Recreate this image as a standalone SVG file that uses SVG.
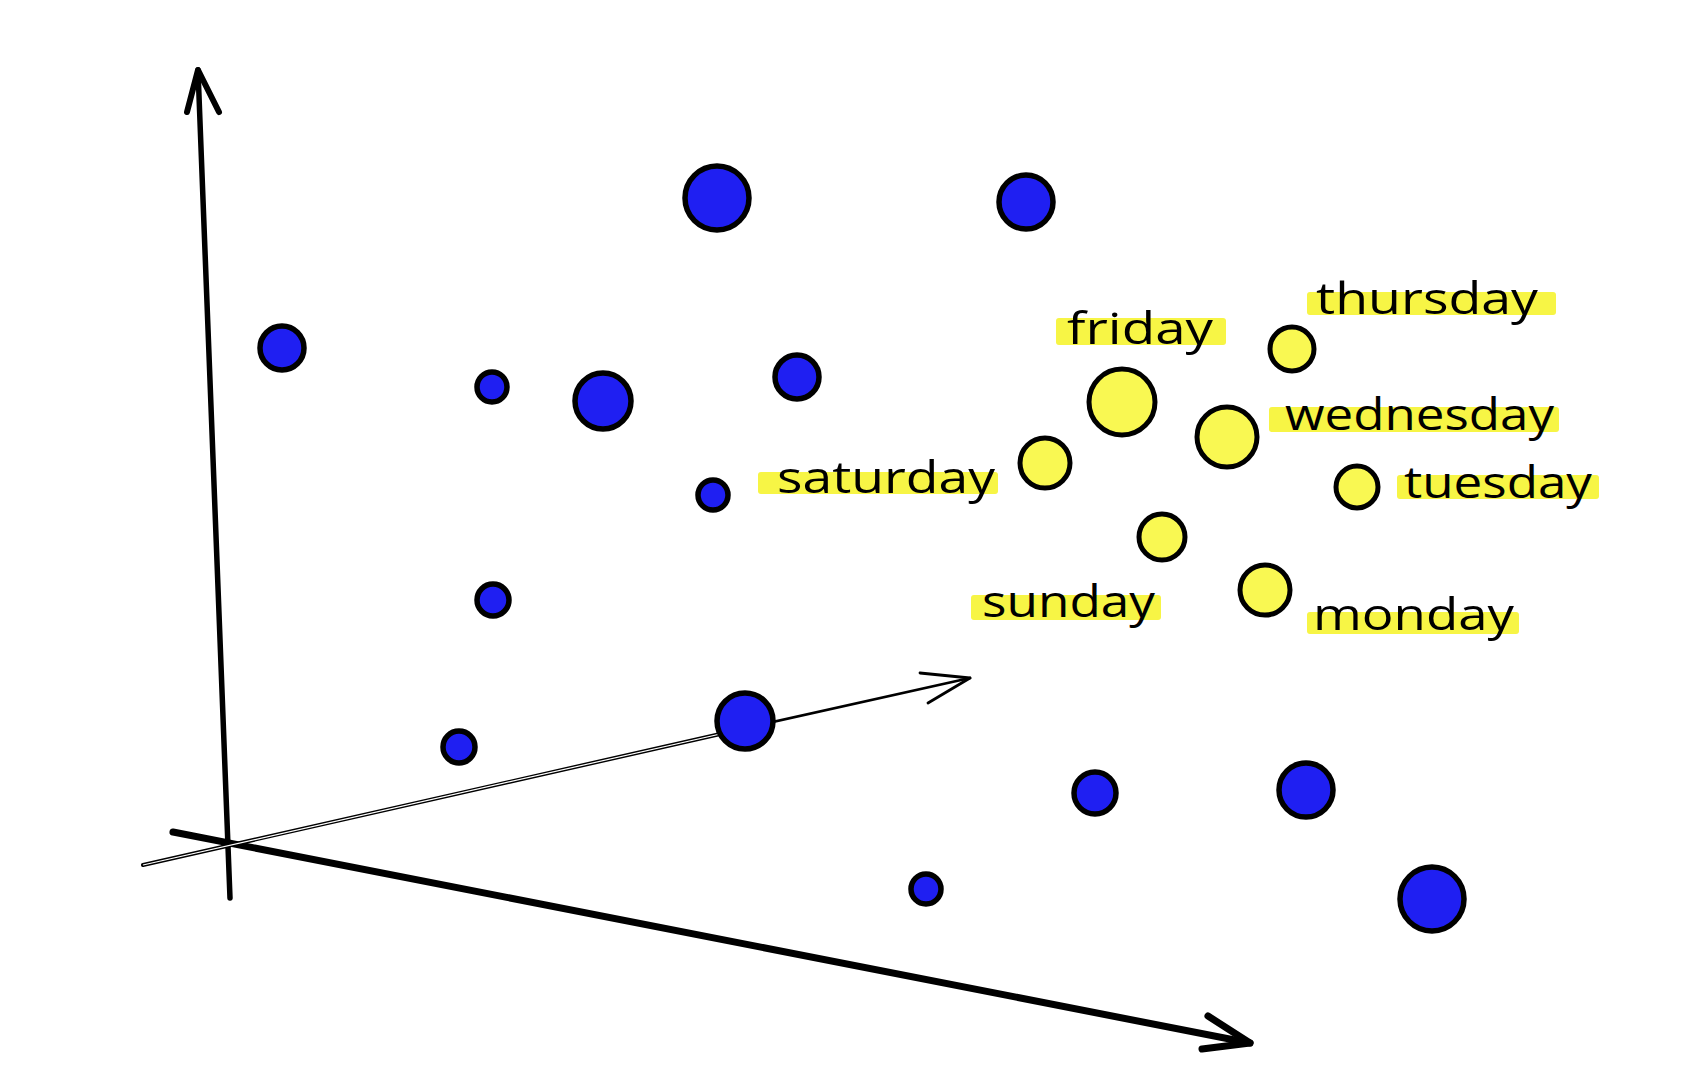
<svg xmlns="http://www.w3.org/2000/svg" width="1698" height="1082" viewBox="0 0 1698 1082">
<style>
.axis{fill:none;stroke:#000;stroke-linecap:round;stroke-linejoin:round}
.blue{fill:#1f1ff2;stroke:#000;stroke-width:5.5}
.yel{fill:#f9f852;stroke:#000;stroke-width:5}
.hl{fill:#f7f545}
.lbl{font-family:"Open Sans","Noto Sans","DejaVu Sans",sans-serif;font-size:44px;fill:#000}
</style>
<rect width="1698" height="1082" fill="#fff"/>
<g id="connectors">
  <path class="axis" d="M198,70 L230,898" stroke-width="5.5"/>
  <path class="axis" d="M187,112 L198,70 L219,112" stroke-width="6"/>
  <path class="axis" d="M173,832 L1250,1043" stroke-width="7"/>
  <path class="axis" d="M1208,1016 L1250,1043 L1202,1049" stroke-width="7"/>
  <path class="axis" d="M143,865 L760,725" stroke-width="4"/>
  <path d="M143,865 L760,725" stroke="#fff" stroke-width="1.2" fill="none"/>
  <path class="axis" d="M755,726 L970,678" stroke-width="2.8"/>
  <path class="axis" d="M920,673 L970,678 L928,703" stroke-width="2.8"/>
</g>
<g id="blue-points">
  <g id="b1"><circle class="blue" cx="717" cy="198" r="32"/></g>
  <g id="b2"><circle class="blue" cx="1026" cy="202" r="27"/></g>
  <g id="b3"><circle class="blue" cx="282" cy="348" r="22"/></g>
  <g id="b4"><circle class="blue" cx="492" cy="387" r="15"/></g>
  <g id="b5"><circle class="blue" cx="603" cy="401" r="28"/></g>
  <g id="b6"><circle class="blue" cx="797" cy="377" r="22"/></g>
  <g id="b7"><circle class="blue" cx="713" cy="495" r="15"/></g>
  <g id="b8"><circle class="blue" cx="493" cy="600" r="16"/></g>
  <g id="b9"><circle class="blue" cx="459" cy="747" r="16"/></g>
  <g id="b10"><circle class="blue" cx="745" cy="721" r="28"/></g>
  <g id="b11"><circle class="blue" cx="1095" cy="793" r="21"/></g>
  <g id="b12"><circle class="blue" cx="1306" cy="790" r="27"/></g>
  <g id="b13"><circle class="blue" cx="926" cy="889" r="15"/></g>
  <g id="b14"><circle class="blue" cx="1432" cy="899" r="32"/></g>
</g>
<g id="yellow-points">
  <g id="friday">
    <rect class="hl" x="1056" y="318" width="170" height="27" rx="3"/>
    <text class="lbl" x="1067" y="344" textLength="146" lengthAdjust="spacingAndGlyphs">friday</text>
    <circle class="yel" cx="1122" cy="402" r="33"/>
  </g>
  <g id="thursday">
    <rect class="hl" x="1307" y="292" width="249" height="23" rx="3"/>
    <text class="lbl" x="1316" y="314" textLength="222" lengthAdjust="spacingAndGlyphs">thursday</text>
    <circle class="yel" cx="1292" cy="349" r="22"/>
  </g>
  <g id="wednesday">
    <rect class="hl" x="1269" y="407" width="290" height="25" rx="3"/>
    <text class="lbl" x="1285" y="430" textLength="269" lengthAdjust="spacingAndGlyphs">wednesday</text>
    <circle class="yel" cx="1227" cy="437" r="30"/>
  </g>
  <g id="tuesday">
    <rect class="hl" x="1397" y="475" width="202" height="24" rx="3"/>
    <text class="lbl" x="1404" y="498" textLength="188" lengthAdjust="spacingAndGlyphs">tuesday</text>
    <circle class="yel" cx="1357" cy="487" r="21"/>
  </g>
  <g id="saturday">
    <rect class="hl" x="758" y="472" width="240" height="22" rx="3"/>
    <text class="lbl" x="777" y="493" textLength="218" lengthAdjust="spacingAndGlyphs">saturday</text>
    <circle class="yel" cx="1045" cy="463" r="25"/>
  </g>
  <g id="sunday">
    <rect class="hl" x="971" y="595" width="190" height="25" rx="3"/>
    <text class="lbl" x="982" y="617" textLength="173" lengthAdjust="spacingAndGlyphs">sunday</text>
    <circle class="yel" cx="1162" cy="537" r="23"/>
  </g>
  <g id="monday">
    <rect class="hl" x="1307" y="612" width="212" height="22" rx="3"/>
    <text class="lbl" x="1313" y="630" textLength="201" lengthAdjust="spacingAndGlyphs">monday</text>
    <circle class="yel" cx="1265" cy="590" r="25"/>
  </g>
</g>
</svg>
